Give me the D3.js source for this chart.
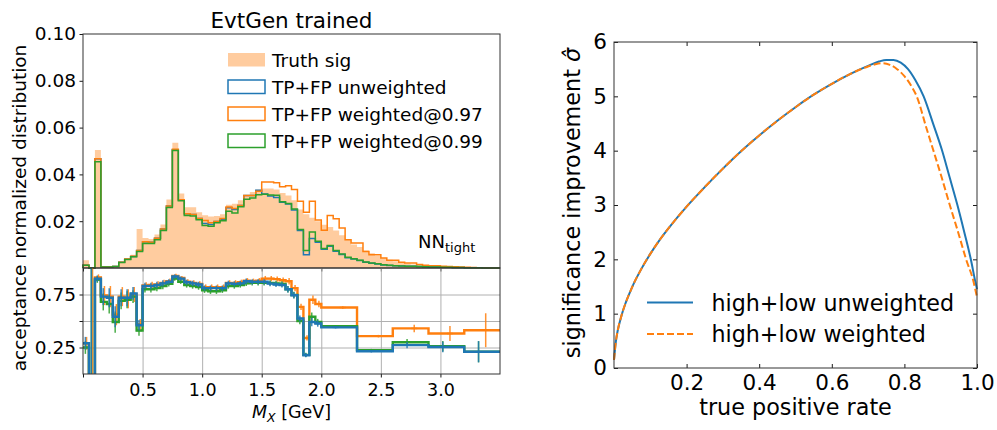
<!DOCTYPE html>
<html>
<head>
<meta charset="utf-8">
<script src="https://cdn.jsdelivr.net/npm/d3@7"></script>
<style>
  body { margin: 0; background: #fff; }
  text { font-family: "DejaVu Sans", sans-serif; fill: #000; }
</style>
</head>
<body>
<div id="chart"></div>
<script>
// ---- left panel: M_X histograms (bin width 0.05 GeV) ----
const massEdges = [0,0.05,0.1,0.15,0.2,0.25,0.3,0.35,0.4,0.45,0.5,0.55,0.6,0.65,0.7,0.75,0.8,0.85,0.9,0.95,
  1,1.05,1.1,1.15,1.2,1.25,1.3,1.35,1.4,1.45,1.5,1.55,1.6,1.65,1.7,1.75,1.8,1.85,1.9,1.95,
  2,2.05,2.1,2.15,2.2,2.25,2.3,2.35,2.4,2.45,2.5,2.55,2.6,2.65,2.7,2.75,2.8,2.85,2.9,2.95,
  3,3.05,3.1,3.15,3.2,3.25,3.3,3.35,3.4,3.45,3.5];

const truthSig = [0.0033,0,0.0504,0,0,0.0003,0.0028,0.0043,0.0057,0.0167,
  0.0128,0.0124,0.0143,0.0186,0.0293,0.0535,0.0318,0.026,0.026,0.0238,
  0.0225,0.022,0.0222,0.023,0.027,0.0275,0.029,0.031,0.0325,0.0335,
  0.034,0.034,0.0335,0.032,0.031,0.029,0.025,0.023,0.0215,0.02,
  0.0185,0.0175,0.016,0.014,0.012,0.01,0.009,0.0075,0.0063,0.0052,
  0.0042,0.0035,0.0029,0.0023,0.0019,0.0015,0.0012,0.001,0.0008,0.0007,
  0.0005,0.0004,0.0003,0.0003,0.0002,0.0002,0.0001,0.0001,0.0001,0];

const tpfpUnweighted = [0.0012,0,0.0467,0.0004,0.0004,0.0006,0.0025,0.0037,0.0049,0.0075,
  0.0112,0.011,0.0127,0.0167,0.0265,0.0505,0.0292,0.0232,0.0229,0.0212,
  0.019,0.0186,0.0199,0.0207,0.0257,0.025,0.0267,0.031,0.031,0.0332,
  0.0316,0.0308,0.0301,0.0281,0.0274,0.0248,0.016,0.0057,0.0126,0.011,
  0.008,0.0093,0.0072,0.0058,0.0044,0.0038,0.0032,0.0025,0.002,0.0017,
  0.0013,0.0011,0.001,0.0009,0.0008,0.0007,0.0006,0.0005,0.0004,0.0004,
  0.0003,0.0003,0.0002,0.0002,0.0001,0.0001,0.0001,0,0,0];

const tpfpW97 = [0.0012,0,0.0467,0.0004,0.0004,0.0006,0.0025,0.0038,0.005,0.0075,
  0.0112,0.011,0.0127,0.0167,0.0265,0.0507,0.0292,0.0232,0.0229,0.0212,
  0.0203,0.0193,0.0199,0.0212,0.0261,0.0254,0.0267,0.031,0.031,0.0328,
  0.0367,0.0367,0.0364,0.0347,0.0352,0.0335,0.0285,0.0238,0.0285,0.0205,
  0.0161,0.0224,0.021,0.0171,0.0121,0.0107,0.0107,0.0071,0.0057,0.0057,
  0.0043,0.0033,0.0033,0.0025,0.0021,0.0021,0.0015,0.0012,0.001,0.001,
  0.0008,0.0006,0.0005,0.0004,0.0003,0.0002,0.0001,0.0001,0,0];

const tpfpW99 = [0.0012,0,0.0454,0.0004,0.0004,0.0006,0.0024,0.0036,0.0048,0.0071,
  0.0105,0.0105,0.0121,0.016,0.0259,0.0502,0.0287,0.0224,0.0222,0.0206,
  0.0182,0.0178,0.0193,0.0202,0.0242,0.0235,0.0262,0.0294,0.0299,0.0313,
  0.0315,0.0312,0.0311,0.0283,0.0276,0.0252,0.0165,0.0075,0.0154,0.0114,
  0.0083,0.0096,0.0075,0.006,0.0046,0.004,0.0033,0.0026,0.0021,0.0018,
  0.0014,0.0012,0.001,0.0009,0.0008,0.0007,0.0006,0.0005,0.0004,0.0004,
  0.0003,0.0003,0.0002,0.0002,0.0001,0.0001,0.0001,0,0,0];

// ---- acceptance (ratio) panel, coarser bins above 2 GeV ----
const accEdges = [0,0.05,0.1,0.15,0.2,0.25,0.3,0.35,0.4,0.45,0.5,0.55,0.6,0.65,0.7,0.75,0.8,0.85,0.9,0.95,
  1,1.05,1.1,1.15,1.2,1.25,1.3,1.35,1.4,1.45,1.5,1.55,1.6,1.65,1.7,1.75,1.8,1.85,1.9,1.95,
  2,2.3,2.6,2.9,3.2,3.5];

const accUnweighted = [0.29,-0.3,0.9,0.73,0.72,0.54,0.72,0.72,0.76,0.46,
  0.83,0.83,0.84,0.855,0.87,0.92,0.9,0.865,0.855,0.845,
  0.81,0.81,0.81,0.81,0.855,0.85,0.855,0.875,0.87,0.87,
  0.87,0.853,0.845,0.84,0.8,0.743,0.523,0.177,0.49,0.476,
  0.44,0.215,0.272,0.255,0.21];
const accW97 = [0.29,-0.3,0.91,0.74,0.73,0.56,0.73,0.71,0.75,0.47,
  0.835,0.84,0.845,0.86,0.875,0.925,0.905,0.87,0.86,0.85,
  0.82,0.82,0.82,0.82,0.86,0.86,0.865,0.88,0.875,0.88,
  0.9,0.9,0.895,0.885,0.875,0.81,0.633,0.34,0.7,0.66,
  0.627,0.357,0.43,0.382,0.413];
const accW99 = [0.25,-0.3,0.89,0.68,0.66,0.49,0.69,0.7,0.73,0.41,
  0.8,0.8,0.81,0.83,0.85,0.9,0.87,0.84,0.83,0.82,
  0.79,0.78,0.78,0.79,0.83,0.83,0.84,0.855,0.86,0.86,
  0.86,0.86,0.855,0.85,0.8,0.745,0.5,0.18,0.54,0.49,
  0.45,0.225,0.3,0.262,0.21];

const errUnweighted = [0.06,1.6,0.03,0.08,0.09,0.1,0.08,0.08,0.06,0.05,
  0.03,0.03,0.03,0.03,0.025,0.02,0.02,0.025,0.025,0.025,
  0.025,0.025,0.025,0.025,0.025,0.025,0.025,0.025,0.025,0.025,
  0.025,0.025,0.025,0.025,0.03,0.03,0.03,0.02,0.04,0.03,
  0.01,0.012,0.03,0.05,0.1];
const errW97 = [0.06,1.6,0.03,0.09,0.1,0.1,0.09,0.09,0.07,0.05,
  0.03,0.03,0.03,0.03,0.025,0.02,0.02,0.025,0.025,0.025,
  0.025,0.025,0.025,0.025,0.025,0.025,0.025,0.025,0.025,0.025,
  0.025,0.025,0.025,0.025,0.03,0.03,0.03,0.025,0.04,0.03,
  0.012,0.012,0.035,0.07,0.16];
const errW99 = [0.06,1.6,0.03,0.08,0.09,0.1,0.08,0.08,0.06,0.05,
  0.03,0.03,0.03,0.03,0.025,0.02,0.02,0.025,0.025,0.025,
  0.025,0.025,0.025,0.025,0.025,0.025,0.025,0.025,0.025,0.025,
  0.025,0.025,0.025,0.025,0.03,0.03,0.03,0.02,0.04,0.03,
  0.01,0.012,0.03,0.05,0.1];

// ---- right panel: significance improvement vs true positive rate ----
const tprUnweighted = [0,0.005,0.01,0.02,0.03,0.04,0.05,0.075,0.1,0.125,0.15,0.2,0.25,0.3,0.35,0.4,0.45,0.5,0.55,0.6,0.65,0.7,
  0.73,0.75,0.77,0.79,0.81,0.83,0.853,0.88,0.903,0.925,0.946,0.965,0.983,0.995,1];
const sigUnweighted = [0.15,0.48,0.68,0.95,1.16,1.33,1.49,1.82,2.1,2.35,2.57,2.97,3.33,3.67,3.99,4.28,4.55,4.8,5.03,5.23,5.41,5.56,
  5.64,5.67,5.67,5.62,5.5,5.3,5,4.48,4.02,3.5,3,2.5,2,1.6,1.45];
const tprWeighted = [0,0.005,0.01,0.02,0.03,0.04,0.05,0.075,0.1,0.125,0.15,0.2,0.25,0.3,0.35,0.4,0.45,0.5,0.55,0.6,0.65,0.7,
  0.72,0.74,0.76,0.78,0.8,0.82,0.834,0.86,0.88,0.903,0.925,0.948,0.97,0.99,1];
const sigWeighted = [0.15,0.48,0.68,0.95,1.16,1.33,1.49,1.82,2.1,2.35,2.57,2.97,3.33,3.67,3.99,4.28,4.55,4.8,5.03,5.23,5.41,5.55,
  5.59,5.61,5.58,5.5,5.37,5.18,5,4.43,4,3.5,3,2.5,2,1.6,1.3];

const histLabels = ["Truth sig", "TP+FP unweighted", "TP+FP weighted@0.97", "TP+FP weighted@0.99"];
const curveLabels = ["high+low unweighted", "high+low weighted"];

const blue = "#1f77b4", orange = "#ff7f0e", green = "#2ca02c", fillOrange = "#ffcc9f";

const svg = d3.select("#chart")
  .append("svg")
  .attr("width", 997)
  .attr("height", 430);

const xMass = d3.scaleLinear().domain([0, 3.5]).range([83, 500]);
const yDist = d3.scaleLinear().domain([0, 0.1]).range([268, 34]);
const yAcc = d3.scaleLinear().domain([0, 1]).range([374, 268]);
const xTpr = d3.scaleLinear().domain([0, 1]).range([614, 977]);
const ySig = d3.scaleLinear().domain([0, 6]).range([368, 42]);

function steps(edges, vals, closed) {
  const pts = closed ? [[edges[0], 0]] : [];
  vals.forEach((v, i) => { pts.push([edges[i], v]); pts.push([edges[i + 1], v]); });
  if (closed) pts.push([edges[edges.length - 1], 0]);
  return pts;
}

function styleAxis(g, size) {
  g.select(".domain").remove();
  g.selectAll(".tick line").attr("stroke", "#000").attr("stroke-width", 0.9);
  g.selectAll(".tick text").attr("font-size", size).attr("font-family", "DejaVu Sans").attr("fill", "#000");
}

// clip for ratio panel
svg.append("clipPath").attr("id", "accClip")
  .append("rect").attr("x", 83).attr("y", 268).attr("width", 417).attr("height", 106);

// ---------- top histogram panel ----------
const histPanel = svg.append("g");

histPanel.append("path")
  .attr("d", d3.area().x(d => xMass(d[0])).y0(yDist(0)).y1(d => yDist(d[1]))(steps(massEdges, truthSig, false)))
  .attr("fill", fillOrange);

const histLine = d3.line().x(d => xMass(d[0])).y(d => yDist(d[1]));
[[tpfpUnweighted, blue], [tpfpW97, orange], [tpfpW99, green]].forEach(([vals, col]) => {
  histPanel.append("path")
    .attr("d", histLine(steps(massEdges, vals, true)))
    .attr("fill", "none")
    .attr("stroke", col)
    .attr("stroke-width", 1.5);
});

histPanel.append("g")
  .attr("transform", "translate(83,0)")
  .call(d3.axisLeft(yDist).tickValues([0.02, 0.04, 0.06, 0.08, 0.10]).tickFormat(d3.format(".2f")).tickSize(3.5).tickPadding(3.5))
  .call(g => styleAxis(g, 18.5));

histPanel.append("g")
  .attr("transform", "translate(0,268)")
  .call(d3.axisBottom(xMass).tickValues([0, 0.5, 1, 1.5, 2, 2.5, 3]).tickFormat("").tickSize(3.5))
  .call(g => styleAxis(g, 17.5));

histPanel.append("rect")
  .attr("x", 83).attr("y", 34).attr("width", 417).attr("height", 234)
  .attr("fill", "none").attr("stroke", "#333").attr("stroke-width", 1);

histPanel.append("text")
  .attr("x", 291.5).attr("y", 27.5)
  .attr("text-anchor", "middle")
  .attr("font-size", 21.5)
  .text("EvtGen trained");

// legend
const legend = histPanel.append("g");
histLabels.forEach((lab, i) => {
  const y = 60 + i * 27;
  const r = legend.append("rect")
    .attr("x", 228).attr("y", y - 7).attr("width", 37).attr("height", 13.5);
  if (i === 0) r.attr("fill", fillOrange);
  else r.attr("fill", "none").attr("stroke", [blue, orange, green][i - 1]).attr("stroke-width", 1.5);
  legend.append("text")
    .attr("x", 272).attr("y", y + 6.5)
    .attr("font-size", 18.5)
    .text(lab);
});

const nn = histPanel.append("text").attr("x", 418).attr("y", 248).attr("font-size", 18);
nn.append("tspan").text("NN");
nn.append("tspan").attr("font-size", 13).attr("dy", 4).text("tight");

// ---------- acceptance panel ----------
const accPanel = svg.append("g");

accPanel.append("g")
  .attr("transform", "translate(0,374)")
  .call(d3.axisBottom(xMass).tickValues([0.5, 1, 1.5, 2, 2.5, 3]).tickFormat("").tickSize(-106))
  .call(g => { g.select(".domain").remove(); g.selectAll("line").attr("stroke", "#b0b0b0").attr("stroke-width", 1); });
accPanel.append("g")
  .attr("transform", "translate(83,0)")
  .call(d3.axisLeft(yAcc).tickValues([0.25, 0.5, 0.75]).tickFormat("").tickSize(-417))
  .call(g => { g.select(".domain").remove(); g.selectAll("line").attr("stroke", "#b0b0b0").attr("stroke-width", 1); });

const accLine = d3.line().x(d => xMass(d[0])).y(d => yAcc(d[1]));
const accPlot = accPanel.append("g").attr("clip-path", "url(#accClip)");
[[accW97, errW97, orange, 0.1], [accW99, errW99, green, -0.1], [accUnweighted, errUnweighted, blue, -0.1]].forEach(([vals, errs, col, off]) => {
  accPlot.append("path")
    .attr("d", accLine(steps(accEdges, vals, false)))
    .attr("fill", "none")
    .attr("stroke", col)
    .attr("stroke-width", 2.4);
  const bars = accPlot.append("g").attr("stroke", col).attr("stroke-width", 1.5).attr("opacity", 0.85);
  vals.forEach((v, i) => {
    const w = accEdges[i + 1] - accEdges[i];
    const cx = xMass(accEdges[i] + w / 2 + off * w);
    bars.append("line").attr("x1", cx).attr("x2", cx).attr("y1", yAcc(v - errs[i])).attr("y2", yAcc(v + errs[i]));
    bars.append("line").attr("x1", cx - 3).attr("x2", cx + 3).attr("y1", yAcc(v)).attr("y2", yAcc(v));
  });
});

accPanel.append("g")
  .attr("transform", "translate(83,0)")
  .call(d3.axisLeft(yAcc).tickValues([0.25, 0.5, 0.75]).tickFormat(d => d === 0.5 ? "" : d3.format(".2f")(d)).tickSize(3.5).tickPadding(3.5))
  .call(g => styleAxis(g, 18.5));
accPanel.append("g")
  .attr("transform", "translate(0,374)")
  .call(d3.axisBottom(xMass).tickValues([0, 0.5, 1, 1.5, 2, 2.5, 3]).tickFormat(d => d === 0 ? "" : d3.format(".1f")(d)).tickSize(3.5).tickPadding(6))
  .call(g => styleAxis(g, 17.5));

accPanel.append("rect")
  .attr("x", 83).attr("y", 268).attr("width", 417).attr("height", 106)
  .attr("fill", "none").attr("stroke", "#333").attr("stroke-width", 1);

const xl = accPanel.append("text").attr("x", 291.5).attr("y", 418).attr("text-anchor", "middle").attr("font-size", 17.5);
xl.append("tspan").attr("font-style", "italic").text("M");
xl.append("tspan").attr("font-style", "italic").attr("font-size", 12.5).attr("dy", 4).text("X");
xl.append("tspan").attr("dy", -4).text(" [GeV]");

svg.append("text")
  .attr("transform", "translate(26,208) rotate(-90)")
  .attr("text-anchor", "middle")
  .attr("font-size", 18.5)
  .text("acceptance normalized distribution");

// ---------- right panel ----------
const sigPanel = svg.append("g");

const sigLine = d3.line().x(d => xTpr(d[0])).y(d => ySig(d[1])).curve(d3.curveMonotoneX);
sigPanel.append("path")
  .attr("d", sigLine(tprUnweighted.map((t, i) => [t, sigUnweighted[i]])))
  .attr("fill", "none").attr("stroke", blue).attr("stroke-width", 2);
sigPanel.append("path")
  .attr("d", sigLine(tprWeighted.map((t, i) => [t, sigWeighted[i]])))
  .attr("fill", "none").attr("stroke", orange).attr("stroke-width", 2).attr("stroke-dasharray", "7,3");

sigPanel.append("g")
  .attr("transform", "translate(614,0)")
  .call(d3.axisLeft(ySig).ticks(6).tickFormat(d3.format("d")).tickSizeInner(-4).tickSizeOuter(0).tickPadding(7))
  .call(g => styleAxis(g, 21.5));
sigPanel.append("g")
  .attr("transform", "translate(977,0)")
  .call(d3.axisRight(ySig).ticks(6).tickFormat("").tickSizeInner(-4).tickSizeOuter(0))
  .call(g => styleAxis(g, 21.5));
sigPanel.append("g")
  .attr("transform", "translate(0,368)")
  .call(d3.axisBottom(xTpr).tickValues([0.2, 0.4, 0.6, 0.8, 1.0]).tickFormat(d3.format(".1f")).tickSizeInner(-4).tickSizeOuter(0).tickPadding(7))
  .call(g => styleAxis(g, 21.5));
sigPanel.append("g")
  .attr("transform", "translate(0,42)")
  .call(d3.axisTop(xTpr).tickValues([0.2, 0.4, 0.6, 0.8]).tickFormat("").tickSizeInner(-4).tickSizeOuter(0))
  .call(g => styleAxis(g, 21.5));

sigPanel.append("rect")
  .attr("x", 614).attr("y", 42).attr("width", 363).attr("height", 326)
  .attr("fill", "none").attr("stroke", "#333").attr("stroke-width", 1);

curveLabels.forEach((lab, i) => {
  const y = 302.5 + i * 31.5;
  sigPanel.append("line")
    .attr("x1", 647).attr("x2", 693).attr("y1", y).attr("y2", y)
    .attr("stroke", i === 0 ? blue : orange).attr("stroke-width", 2)
    .attr("stroke-dasharray", i === 0 ? null : "7,3");
  sigPanel.append("text")
    .attr("x", 711.5).attr("y", y + 8)
    .attr("font-size", 22.2)
    .text(lab);
});

sigPanel.append("text")
  .attr("x", 795.5).attr("y", 415)
  .attr("text-anchor", "middle")
  .attr("font-size", 22.3)
  .text("true positive rate");

const yl = sigPanel.append("text")
  .attr("transform", "translate(580,203) rotate(-90)")
  .attr("text-anchor", "middle")
  .attr("font-size", 22.3);
yl.append("tspan").text("significance improvement ");
yl.append("tspan").attr("font-style", "italic").text("σ\u0302");
</script>
</body>
</html>
